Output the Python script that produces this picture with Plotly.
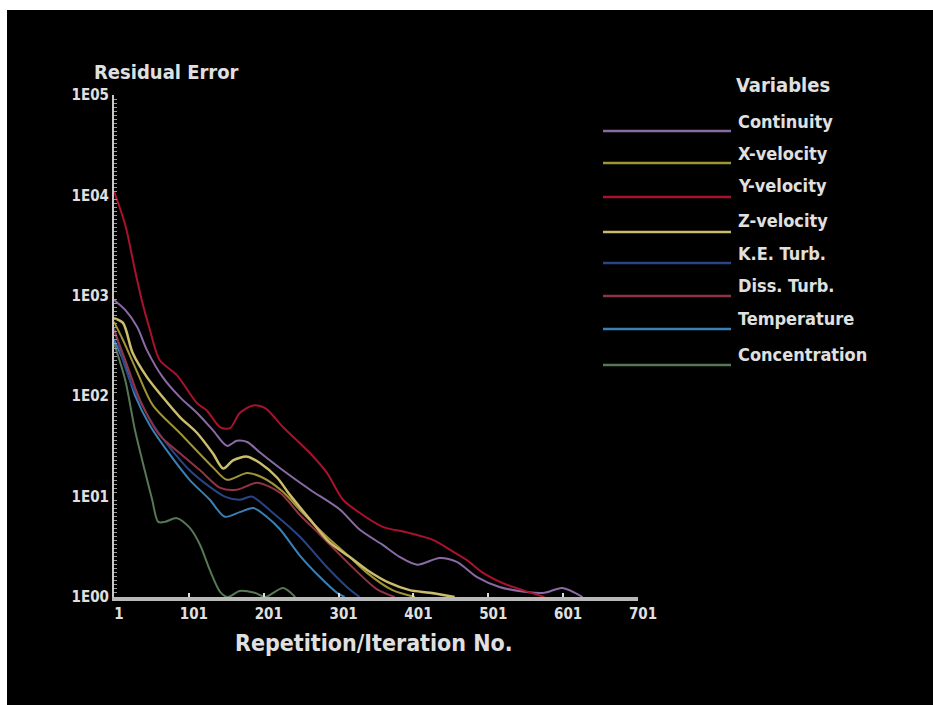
import plotly.graph_objects as go

# ---------------- data ----------------
series_names = ["Continuity", "X-velocity", "Y-velocity", "Z-velocity",
                "K.E. Turb.", "Diss. Turb.", "Temperature", "Concentration"]
series_colors = ["#8a6aa4", "#a09434", "#a8122c", "#cbbd6c",
                 "#2a4488", "#903444", "#3a80b6", "#567854"]

continuity_x = [1, 16, 32, 45, 66, 89, 112, 133, 152, 165, 179, 196, 227, 263, 303, 329, 360, 383, 406, 436, 459, 486, 516, 552, 576, 600, 627]
continuity_y = [910, 724, 490, 288, 155, 98, 68, 46, 32, 36, 35, 27.5, 18.2, 11.7, 7.4, 4.7, 3.3, 2.5, 2.1, 2.45, 2.24, 1.58, 1.26, 1.12, 1.1, 1.23, 1.0]

xvel_x = [1, 13, 32, 53, 89, 133, 152, 179, 200, 227, 249, 285, 316, 339, 373, 403]
xvel_y = [550, 363, 174, 81, 43, 19.6, 14.7, 17.2, 15.4, 11.1, 7.4, 4.0, 2.5, 1.74, 1.17, 1.0]

yvel_x = [1, 16, 29, 38, 49, 62, 85, 112, 125, 143, 156, 169, 187, 203, 227, 263, 285, 307, 329, 360, 392, 427, 450, 472, 494, 520, 547, 576]
yvel_y = [11000, 5100, 1800, 910, 457, 229, 162, 85, 72, 49, 48, 68, 81, 76, 49, 27, 17.4, 9.3, 6.9, 5.0, 4.4, 3.7, 2.95, 2.34, 1.74, 1.38, 1.17, 1.0]

zvel_x = [1, 13, 26, 45, 66, 89, 112, 133, 147, 160, 179, 196, 219, 236, 263, 289, 316, 339, 369, 396, 423, 456]
zvel_y = [600, 537, 269, 155, 98, 62, 43, 27, 19, 23, 25, 21.6, 15.4, 10.4, 5.9, 3.5, 2.5, 1.86, 1.38, 1.17, 1.1, 1.0]

keturb_x = [1, 22, 58, 102, 129, 149, 169, 185, 213, 249, 285, 312, 329]
keturb_y = [480, 145, 46, 18.3, 12.5, 10, 9.3, 10, 6.9, 4.0, 2.0, 1.26, 1.0]

dissturb_x = [1, 16, 36, 62, 89, 116, 143, 165, 192, 223, 249, 276, 316, 352, 376]
dissturb_y = [457, 229, 91, 41, 27, 18.3, 12.2, 11.7, 13.7, 10.9, 6.6, 4.2, 2.1, 1.2, 1.0]

temp_x = [1, 16, 29, 49, 76, 102, 129, 149, 169, 187, 205, 223, 249, 276, 299, 309]
temp_y = [363, 204, 102, 51, 26, 14.7, 9.3, 6.3, 7.0, 7.7, 6.3, 4.7, 2.6, 1.58, 1.1, 1.0]

conc_x = [1, 16, 29, 42, 52, 60, 69, 85, 102, 116, 129, 143, 153, 169, 189, 203, 227, 243]
conc_y = [339, 145, 46, 18.3, 9.3, 5.6, 5.6, 6.1, 4.9, 3.3, 1.86, 1.12, 1.0, 1.15, 1.1, 1.0, 1.23, 1.0]

series_x = [continuity_x, xvel_x, yvel_x, zvel_x, keturb_x, dissturb_x, temp_x, conc_x]
series_y = [continuity_y, xvel_y, yvel_y, zvel_y, keturb_y, dissturb_y, temp_y, conc_y]

x_tick_vals = [1, 101, 201, 301, 401, 501, 601, 701]
x_tick_text = ["1", "101", "201", "301", "401", "501", "601", "701"]
y_tick_vals = [1, 10, 100, 1000, 10000, 100000]
y_tick_text = ["1E00", "1E01", "1E02", "1E03", "1E04", "1E05"]

# ---------------- layout constants ----------------
W, H = 933, 705
L, R, T, B = 114, 295, 95, 108
PW, PH = W - L - R, H - T - B
FONT = "'DejaVu Sans Condensed', 'Liberation Sans Narrow', 'DejaVu Sans', sans-serif"
TXT = "#e0e0e0"


def px_to_paper_x(px):
    return (px - L) / PW


def px_to_paper_y(py):
    return (H - B - py) / PH


fig = go.Figure()

# draw order: back to front
order = [7, 6, 4, 5, 1, 3, 0, 2]
for i in order:
    fig.add_trace(go.Scatter(
        x=series_x[i], y=series_y[i], mode="lines", name=series_names[i],
        line=dict(color=series_colors[i], width=2.0 if i != 3 else 2.5,
                  shape="spline", smoothing=0.8),
        showlegend=False, hoverinfo="skip"))

shapes = [dict(type="rect", xref="paper", yref="paper",
               x0=px_to_paper_x(7), x1=px_to_paper_x(W + 5),
               y0=px_to_paper_y(10), y1=px_to_paper_y(H + 5),
               fillcolor="black", line=dict(width=0), layer="below")]

annotations = [
    dict(text="<b>Residual Error</b>", xref="paper", yref="paper",
         x=px_to_paper_x(92), y=px_to_paper_y(72), xanchor="left", yanchor="middle",
         showarrow=False, font=dict(family=FONT, size=20, color=TXT)),
    dict(text="<b>Variables</b>", xref="paper", yref="paper",
         x=px_to_paper_x(734), y=px_to_paper_y(85), xanchor="left", yanchor="middle",
         showarrow=False, font=dict(family=FONT, size=20, color=TXT)),
    dict(text="<b>Repetition/Iteration No.</b>", xref="paper", yref="paper",
         x=px_to_paper_x(374), y=px_to_paper_y(643), xanchor="center", yanchor="middle",
         showarrow=False, font=dict(family=FONT, size=23, color=TXT)),
]

legend_line_y = [131, 163, 197, 232, 263, 296, 329, 365]
legend_text_y = [122, 153, 186, 220, 253, 285, 318, 354]
for i, name in enumerate(series_names):
    shapes.append(dict(type="line", xref="paper", yref="paper",
                       x0=px_to_paper_x(603), x1=px_to_paper_x(731),
                       y0=px_to_paper_y(legend_line_y[i]), y1=px_to_paper_y(legend_line_y[i]),
                       line=dict(color=series_colors[i], width=2.5)))
    annotations.append(dict(text="<b>" + name + "</b>", xref="paper", yref="paper",
                            x=px_to_paper_x(736), y=px_to_paper_y(legend_text_y[i]),
                            xanchor="left", yanchor="middle", showarrow=False,
                            font=dict(family=FONT, size=18, color=TXT)))

minor_vals = [10 ** (k + j / 25) for k in range(5) for j in range(1, 25)]

fig.update_layout(
    width=W, height=H,
    margin=dict(l=L, r=R, t=T, b=B, autoexpand=False),
    paper_bgcolor="white", plot_bgcolor="black",
    shapes=shapes, annotations=annotations,
    showlegend=False,
    xaxis=dict(range=[1, 701], showgrid=False, zeroline=False,
               showline=True, linecolor="#b8b8b8", linewidth=4,
               tickvals=x_tick_vals, ticktext=["<b>" + t + "</b>" for t in x_tick_text],
               ticks="inside", ticklen=4, tickwidth=2, tickcolor="#dddddd",
               ticklabelshift=5,
               tickfont=dict(family=FONT, size=15, color=TXT)),
    yaxis=dict(type="log", range=[0, 5], showgrid=False, zeroline=False,
               showline=True, linecolor="#c8c8c8", linewidth=2,
               tickvals=y_tick_vals, ticktext=["<b>" + t + "</b>" for t in y_tick_text],
               ticks="", tickfont=dict(family=FONT, size=15, color=TXT),
               minor=dict(tickvals=minor_vals, ticks="inside", ticklen=3,
                          tickwidth=1, tickcolor="#9a9a9a")),
)

fig.write_html("out.html",
               config={"displayModeBar": False},
               post_script="document.body.style.margin='0';document.body.style.overflow='hidden';")
